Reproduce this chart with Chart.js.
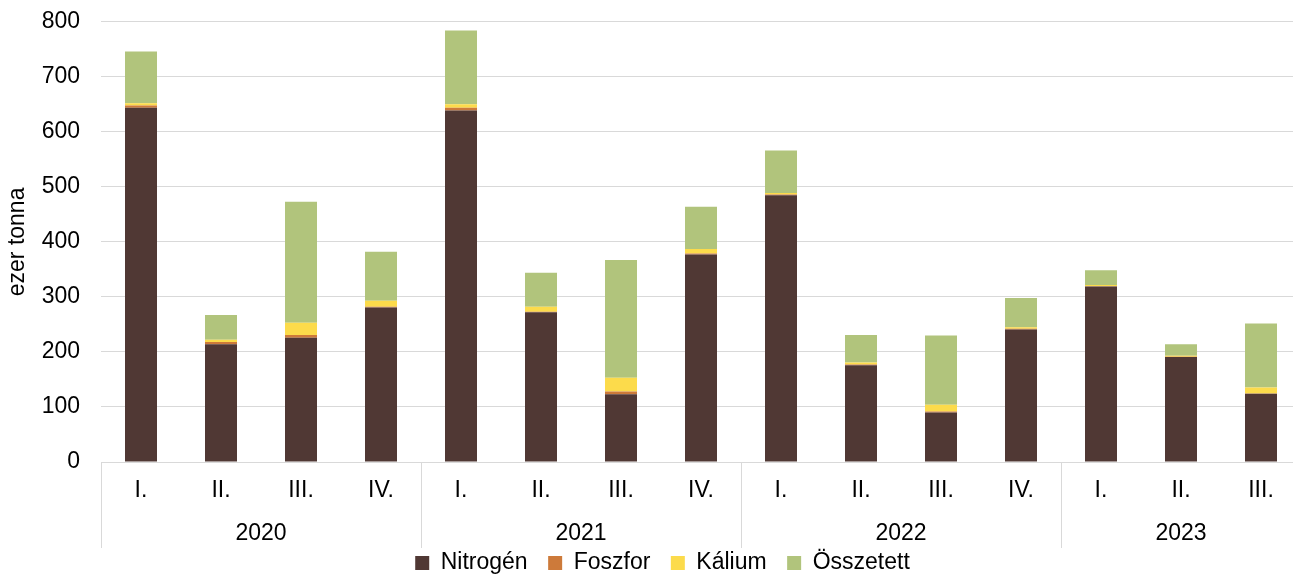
<!DOCTYPE html>
<html>
<head>
<meta charset="utf-8">
<script src="https://cdn.jsdelivr.net/npm/chart.js@4/dist/chart.umd.min.js"></script>
<style>
  html, body { margin: 0; padding: 0; background: #fff; overflow: hidden; }
  #wrap { position: relative; width: 1318px; height: 588px; margin-top: -13px; }
</style>
</head>
<body>
<div id="wrap"><canvas id="c"></canvas></div>
<script>
// ---- data ----
const quarters = ['I.', 'II.', 'III.', 'IV.', 'I.', 'II.', 'III.', 'IV.', 'I.', 'II.', 'III.', 'IV.', 'I.', 'II.', 'III.'];
const years = ['2020', '2021', '2022', '2023'];
const quartersPerYear = [4, 4, 4, 3];
const nitrogen  = [644, 214, 226, 281, 639, 272, 123, 377, 485, 176, 90, 241, 319, 191, 124];
const foszfor   = [4, 4, 5, 1, 5, 1, 5, 2, 1, 1, 2, 1, 0.5, 0.5, 0.5];
const kalium    = [4, 4, 22, 11, 6, 9, 25, 8, 3, 4, 12, 3, 2, 1.5, 11];
const osszetett = [94, 45, 220, 89, 134, 62, 214, 77, 77, 50, 126, 53, 27, 21, 116];
const seriesNames = ['Nitrogén', 'Foszfor', 'Kálium', 'Összetett'];
const yTicks = [0, 100, 200, 300, 400, 500, 600, 700, 800];

const FONT = "'Liberation Sans', Arial, sans-serif";
const colors = ['#503834', '#CD7A3A', '#FCDB4B', '#B1C47C'];

const yearPlugin = {
  id: 'yearGroups',
  afterDraw(chart) {
    const ctx = chart.ctx;
    const xs = chart.scales.x;
    const area = chart.chartArea;
    const step = xs.getPixelForValue(1) - xs.getPixelForValue(0);
    ctx.save();
    ctx.strokeStyle = '#d9d9d9';
    ctx.lineWidth = 1;
    ctx.fillStyle = '#000';
    ctx.font = '23px ' + FONT;
    ctx.textAlign = 'center';
    ctx.textBaseline = 'middle';
    let idx = 0;
    const drawSep = (x) => {
      const px = Math.round(x) + 0.5;
      ctx.beginPath();
      ctx.moveTo(px, area.bottom);
      ctx.lineTo(px, area.bottom + 86);
      ctx.stroke();
    };
    years.forEach((yr, g) => {
      const n = quartersPerYear[g];
      const left = xs.getPixelForValue(idx) - step / 2;
      const right = xs.getPixelForValue(idx + n - 1) + step / 2;
      drawSep(left);
      ctx.fillText(yr, (left + right) / 2, area.bottom + 72);
      idx += n;
      if (g === years.length - 1) drawSep(right);
    });
    ctx.restore();
  }
};

const seriesData = [nitrogen, foszfor, kalium, osszetett];

new Chart(document.getElementById('c'), {
  type: 'bar',
  data: {
    labels: quarters,
    datasets: seriesNames.map((name, i) => ({
      label: name,
      data: seriesData[i],
      backgroundColor: colors[i],
      borderWidth: 0,
      barPercentage: 1,
      categoryPercentage: 0.4
    }))
  },
  options: {
    responsive: true,
    maintainAspectRatio: false,
    animation: false,
    layout: { padding: { left: 24, right: 17, top: 9, bottom: -9.5 } },
    plugins: {
      legend: {
        position: 'bottom',
        labels: {
          font: { family: FONT, size: 23 },
          color: '#000',
          boxWidth: 14,
          boxHeight: 14,
          padding: 20.5
        }
      },
      tooltip: { enabled: false }
    },
    scales: {
      x: {
        stacked: true,
        grid: { display: false, drawTicks: false },
        border: { display: true, color: '#d9d9d9', width: 1 },
        ticks: {
          font: { family: FONT, size: 23 },
          color: '#000',
          padding: 15,
          maxRotation: 0,
          autoSkip: false
        },
        afterFit(s) { s.height = 69; }
      },
      y: {
        stacked: true,
        min: 0,
        max: 800,
        afterBuildTicks(s) { s.ticks = yTicks.map(v => ({ value: v })); },
        grid: { color: '#d9d9d9', lineWidth: 1, drawTicks: false },
        border: { display: false },
        ticks: {
          font: { family: FONT, size: 23 },
          color: '#000',
          padding: 21
        },
        title: {
          display: true,
          text: 'ezer tonna',
          font: { family: FONT, size: 23 },
          color: '#000',
          padding: { top: -20, bottom: 0 }
        },
        afterFit(s) { s.width = 77; }
      }
    }
  },
  plugins: [yearPlugin]
});
</script>
</body>
</html>
